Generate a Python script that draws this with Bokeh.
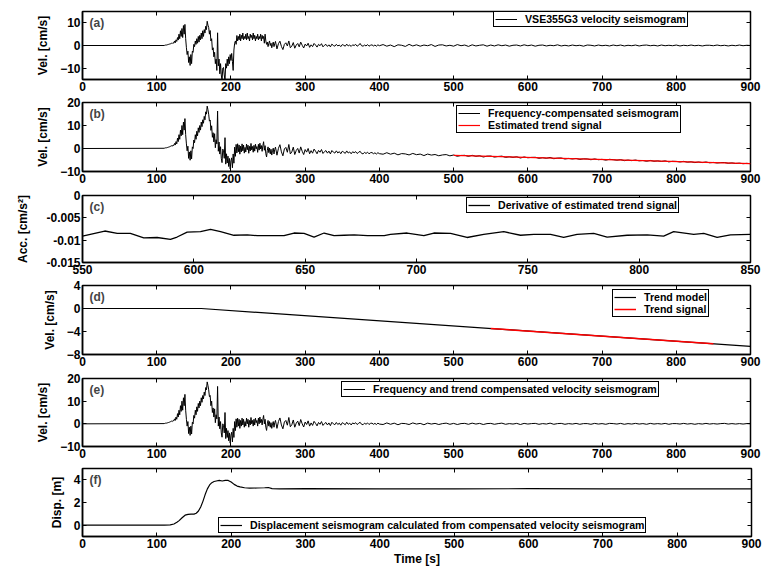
import numpy as np
from bokeh.plotting import figure
from bokeh.models import (Range1d, LinearAxis, FixedTicker, Legend, LegendItem,
                          Label, CustomJSTickFormatter)
from bokeh.layouts import column
from bokeh.embed import file_html
from bokeh.resources import INLINE

FONT = "Liberation Sans"

# ---------------- data ----------------
# (a) raw velocity seismogram [cm/s]; 1 s samples from 110 s
a_strong = [0, 0.1, 0.2, 0.2, 0.3, 0.4, 0.5, 0.6, 0.7, 0.8,
            1.0, 0.9, 1.3, 1.0, 2.0, 1.2, 2.5, 1.8, 3.5, 2.4,
            5.0, 3.0, 6.5, 4.0, 7.5, 3.5, 8.8, 5.0, 9.3, 3.0,
            -1.0, -4.0, -2.5, -7.5, -5.0, -8.8, -4.0, -8.0, -2.5, -3.0,
            0.5, -0.5, 2.0, 0.5, 3.0, 1.0, 4.0, 1.5, 4.5, 2.5,
            5.5, 3.0, 6.5, 4.0, 7.0, 5.5, 8.5, 7.0, 10.7, 9.0,
            8.0, 5.0, 6.6, 2.0, 3.0, -2.0, -1.0, -5.0, -3.0, -8.0,
            -6.0, -11.0, 5.6, -9.0, -6.0, -12.5, -8.0, -13.0, -15.5, -10.0,
            -9.7, -13.0, -15.5, -8.0, -10.0, -6.0, -9.0, -5.0, -8.0, -4.0,
            -6.6, -3.5, -7.0, -11.0, -2.0, 1.0, 2.0, 0.5, 4.4, 2.0,
            4.0, 2.5, 5.0, 2.0, 4.5, 3.0, 5.5, 2.5, 4.0, 3.0,
            5.0, 2.5, 5.5, 3.0, 4.0, 2.0, 5.0, 3.5, 4.5, 2.5,
            5.5, 3.0, 4.5, 2.0, 4.0, 3.0, 5.0, 2.5, 4.0, 3.0,
            5.0, 2.0, 4.5, 3.0, 4.0, 1.0, 5.0, 2.0, 0.5, 1.5,
            -0.5, 1.0, 2.0, 0.0, 1.0, -1.0, 0.5, 1.5, -0.5, 0.8,
            1.8]
# 2 s samples from 262 s
a_tail1 = [-1.5, 0.8, 1.9, -0.4, -1.8, 0.5, 1.2, -0.2, 2.0, -1.0,
           -0.3, 1.3, -1.2, 0.2, 0.9, -0.6, 1.5, 0.1, -1.1, 0.6,
           -0.2, 1.0, -0.8, 0.3, -0.5, 0.9, 0.2, -0.7, 0.5, -0.1,
           0.8, -0.6, 0.1, 0.5, -0.4, 0.3, -0.6, 0.6, 0.0, -0.3,
           0.5, -0.2, 0.2, -0.5, 0.4, 0.1, -0.3, 0.6, -0.2, 0.2,
           -0.4, 0.3, 0.0, 0.5, -0.3, 0.1, 0.9, -0.1, -0.3, 0.2,
           -0.2, 0.4, -0.3, 0.1, 0.3, -0.2, 0.2, -0.3, 0.3, -0.1]
# 5 s samples from 405 s
a_tail2 = [0.4, -0.3, 0.2, -0.5, 0.3, 0.1, -0.4, 0.5, -0.2, 0.3,
           -0.3, 0.2, -0.1, 0.4, -0.4, 0.2, 0.3, -0.2, 0.1, -0.3,
           0.4, -0.1, 0.2, -0.4, 0.3, -0.2, 0.1, 0.3, -0.3, 0.2,
           -0.2, 0.3, -0.1, 0.2, -0.3, 0.1, 0.2, -0.2, 0.3, -0.1,
           0.2, -0.3, 0.1, 0.2, -0.2, 0.1, -0.1, 0.3, -0.2, 0.1,
           -0.2, 0.2, -0.1, 0.1, -0.3, 0.2, 0.1, -0.2, 0.2, -0.1,
           0.1, -0.2, 0.2, -0.1, 0.2, -0.2, 0.1, -0.1, 0.2, -0.2,
           0.1, 0.2, -0.1, 0.1, -0.2, 0.2, -0.1, 0.1, -0.1, 0.2,
           -0.2, 0.1, -0.1, 0.2, -0.1, 0.1, -0.2, 0.1, 0.1, -0.1,
           0.2, -0.1, 0.1, -0.2, 0.1, -0.1, 0.2, -0.1, 0.1, 0.0]

# (e) frequency- and trend-compensated velocity [cm/s]; 1 s samples from 110 s
e_strong = [0.1, 0.2, 0.3, 0.3, 0.4, 0.5, 0.6, 0.7, 0.9, 1.0,
            1.2, 1.0, 1.5, 1.3, 2.2, 1.5, 3.0, 2.0, 4.5, 3.0,
            6.0, 4.0, 8.0, 5.5, 10.0, 6.0, 11.5, 8.0, 13.0, 6.0,
            2.0, -1.0, 1.0, -4.3, -1.5, -5.1, -1.0, -4.5, 0.7, 0.0,
            3.7, 2.5, 6.0, 4.0, 7.5, 5.5, 9.0, 7.0, 10.0, 8.0,
            11.5, 9.5, 12.5, 11.0, 14.0, 12.5, 16.0, 15.0, 18.5, 17.0,
            15.0, 12.0, 12.5, 8.0, 10.0, 5.0, 7.0, 3.0, 6.6, 0.5,
            4.0, 2.2, 16.5, -1.0, 3.0, -2.2, 1.0, -4.0, -5.9, 0.0,
            -0.7, -4.0, 5.0, -6.5, -2.0, -6.0, -3.0, -7.5, -4.0, -8.5,
            -5.0, -3.7, -8.0, -2.0, -6.0, 1.0, -3.0, 2.2, -1.5, 2.5,
            -1.0, 2.0, -2.0, 1.5, -1.0, 2.5, -0.5, 2.0, -1.5, 1.0,
            -1.0, 2.5, 0.0, 2.0, -1.5, 1.5, -0.5, 2.8, 0.0, 1.5,
            -1.0, 2.0, -0.5, 2.5, 0.5, 1.5, -1.0, 2.5, 0.0, 3.0,
            0.5, 2.0, -0.5, 2.0, 3.7, 0.0, 2.0, -1.5, -2.9, 0.0,
            1.5, -1.0, 1.0, -1.5, 0.5, -2.0, 0.0, 1.0, -1.5, 0.5,
            1.5]
e_tail1 = [-2.0, 1.0, 2.6, -0.5, -2.2, 0.8, 1.5, -0.6, 2.8, -1.3,
           -0.4, 1.7, -1.5, 0.3, 1.2, -0.8, 1.9, 0.0, -1.4, 0.8,
           -0.3, 1.3, -1.0, 0.4, -0.7, 1.1, 0.2, -0.9, 0.6, -0.2,
           1.0, -0.7, 0.1, 0.6, -0.5, 0.4, -0.8, 0.7, 0.0, -0.4,
           0.6, -0.3, 0.3, -0.6, 0.5, 0.1, -0.4, 0.7, -0.2, 0.3,
           -0.5, 0.4, 0.0, 0.5, -0.3, 0.2, 0.7, -0.2, -0.4, 0.3,
           -0.2, 0.4, -0.3, 0.2, 0.3, -0.2, 0.2, -0.3, 0.3, -0.1]
e_tail2 = [-0.3, 0.4, -0.2, 0.3, -0.4, 0.2, 0.1, -0.3, 0.4, -0.1,
           0.2, -0.4, 0.3, -0.1, 0.2, -0.3, 0.1, 0.3, -0.2, 0.2,
           -0.3, 0.1, 0.2, -0.2, 0.3, -0.1, 0.2, -0.3, 0.1, 0.2,
           -0.2, 0.1, 0.3, -0.2, 0.1, -0.1, 0.2, -0.3, 0.2, -0.1,
           0.1, 0.2, -0.2, 0.1, -0.1, 0.3, -0.2, 0.1, 0.2, -0.2,
           0.1, -0.1, 0.2, -0.2, 0.1, 0.1, -0.2, 0.2, -0.1, 0.1,
           -0.2, 0.2, 0.1, -0.1, 0.2, -0.2, 0.1, -0.1, 0.2, -0.1,
           0.1, -0.2, 0.2, -0.1, 0.1, -0.1, 0.2, -0.2, 0.1, 0.1,
           -0.1, 0.2, -0.1, 0.1, -0.2, 0.1, -0.1, 0.2, -0.1, 0.1,
           -0.1, 0.1, 0.2, -0.1, 0.1, -0.1, 0.1, -0.1, 0.1, 0.0]

# (c) derivative of estimated trend signal [cm/s^2]
c_t = [550, 560, 565.6, 571.5, 577.5, 583.5, 589.5, 592.5, 597, 603, 607.5, 612,
       618, 624, 628.5, 634.5, 640.5, 645, 649.5, 654, 658.5, 663, 667.6, 672,
       678, 685.5, 688.3, 695.8, 703.3, 707.8, 715.3, 722.7, 730.2, 739.2,
       746.7, 752.7, 760.2, 766.1, 772.1, 779.6, 785.6, 794.6, 803.6, 811,
       815.5, 824.5, 829, 835, 841, 850]
c_v = [-0.0091, -0.00795, -0.0085, -0.0085, -0.0095, -0.0094, -0.0098, -0.0093,
       -0.0082, -0.0081, -0.0076, -0.0081, -0.0089, -0.0088, -0.0090, -0.0090,
       -0.0090, -0.0084, -0.0085, -0.0093, -0.0084, -0.0090, -0.0089, -0.0088,
       -0.0090, -0.0090, -0.0087, -0.0084, -0.0090, -0.0084, -0.0085, -0.0094,
       -0.0087, -0.0081, -0.0089, -0.0087, -0.0087, -0.0094, -0.0087, -0.0085,
       -0.0093, -0.0089, -0.0088, -0.0091, -0.0081, -0.0087, -0.0085, -0.0094,
       -0.0088, -0.0087]

# (d) trend model and trend signal [cm/s]
trend_t = [0, 160, 900]
trend_v = [0.0, 0.0, -6.6]
sig_t = [550, 850]
sig_v = [-3.48, -6.15]
# estimated trend shown in (b)
est_t = [500, 900]
est_v = [-3.0, -6.6]

# (f) displacement [m]
f_t = [0, 110, 118, 123, 127, 130, 134, 138, 142, 146, 150, 153, 156, 159, 162,
       165, 168, 171, 174, 177, 180, 184, 188, 192, 196, 200, 204, 208, 212, 218,
       225, 235, 245, 250, 255, 265, 300, 400, 500, 600, 700, 800, 900]
f_v = [0, 0, 0.03, 0.1, 0.25, 0.4, 0.65, 0.88, 0.95, 0.97, 0.98, 1.05, 1.25, 1.6,
       2.1, 2.7, 3.2, 3.55, 3.75, 3.85, 3.9, 3.95, 3.9, 3.95, 3.95, 3.8, 3.6, 3.45,
       3.38, 3.3, 3.27, 3.28, 3.3, 3.32, 3.22, 3.2, 3.22, 3.2, 3.2, 3.22, 3.2, 3.2, 3.2]


def series(strong, tail1, tail2):
    t = np.concatenate([[0.0], 110 + np.arange(len(strong)),
                        262 + 2 * np.arange(len(tail1)),
                        405 + 5 * np.arange(len(tail2))])
    v = np.concatenate([[0.0], strong, tail1, tail2])
    return t, v


ta, va = series(a_strong, a_tail1, a_tail2)
te, ve = series(e_strong, e_tail1, e_tail2)
tb = te
vb = ve + np.interp(te, trend_t, trend_v)


# ---------------- styling helpers ----------------
def style_axis(ax, ticks):
    ax.ticker = FixedTicker(ticks=ticks)
    ax.major_tick_in = 4
    ax.major_tick_out = 0
    ax.minor_tick_line_color = None
    ax.major_tick_line_color = "black"
    ax.major_tick_line_width = 1
    ax.axis_line_color = "black"
    ax.axis_line_width = 1.5
    ax.major_label_text_font = FONT
    ax.major_label_text_font_size = "12px"
    ax.major_label_text_font_style = "bold"
    ax.major_label_text_color = "black"
    ax.major_label_standoff = 2
    ax.axis_label_text_font = FONT
    ax.axis_label_text_font_size = "12px"
    ax.axis_label_text_font_style = "bold"
    ax.axis_label_text_color = "black"


def panel(h, mbt, mbb, xr, yr, xticks, yticks, ylabel, tag, width=764, mbr=14,
          xlabel=None, yfmt=None, ylab_standoff=7):
    p = figure(width=width, height=h, x_range=Range1d(*xr), y_range=Range1d(*yr),
               output_backend="svg", toolbar_location=None,
               min_border_left=82, min_border_right=mbr,
               min_border_top=mbt, min_border_bottom=mbb)
    p.grid.visible = False
    p.outline_line_color = "black"
    p.outline_line_width = 1.5
    p.outline_line_alpha = 1
    p.background_fill_color = "white"
    p.border_fill_color = "white"
    style_axis(p.xaxis[0], xticks)
    style_axis(p.yaxis[0], yticks)
    p.yaxis[0].axis_label = ylabel
    p.yaxis[0].axis_label_standoff = ylab_standoff
    if xlabel:
        p.xaxis[0].axis_label = xlabel
        p.xaxis[0].axis_label_standoff = 1
    if yfmt is not None:
        p.yaxis[0].formatter = yfmt
    for loc, ticks in (("above", xticks), ("right", yticks)):
        ax = LinearAxis()
        style_axis(ax, ticks)
        ax.formatter = CustomJSTickFormatter(code="return ''")
        ax.major_label_text_font_size = "0px"
        ax.major_label_standoff = 0
        ax.axis_line_color = None
        p.add_layout(ax, loc)
    p.add_layout(Label(x=xr[0], y=yr[1], x_offset=7, y_offset=-4, text=tag,
                       text_baseline="top", text_font=FONT,
                       text_font_size="12px", text_font_style="bold"))
    return p


def legend(p, items, loc):
    leg = Legend(items=[LegendItem(label=l, renderers=[r]) for l, r in items],
                 location=loc, orientation="vertical",
                 label_text_font=FONT, label_text_font_size="10.6px",
                 label_text_font_style="bold", label_text_color="black",
                 border_line_color="black", border_line_width=1.5,
                 border_line_alpha=1, background_fill_color="white",
                 background_fill_alpha=1, padding=1, margin=0, spacing=0,
                 glyph_width=22, glyph_height=12, label_height=12,
                 label_standoff=8)
    p.add_layout(leg)


X100 = [0, 100, 200, 300, 400, 500, 600, 700, 800, 900]

# (a)
pa = panel(95, 11, 16, (0, 900), (-15, 15), X100, [-10, 0, 10], "Vel. [cm/s]", "(a)")
ra = pa.line(ta, va, line_color="black", line_width=1)
legend(pa, [("VSE355G3 velocity seismogram", ra)], (411, 52))

# (b)
pb = panel(92, 7, 16, (0, 900), (-10, 20), X100, [-10, 0, 10, 20], "Vel. [cm/s]", "(b)")
rb = pb.line(tb, vb, line_color="black", line_width=1)
rb2 = pb.line(est_t, est_v, line_color="red", line_width=1.2)
legend(pb, [("Frequency-compensated seismogram", rb),
            ("Estimated trend signal", rb2)], (374, 38))

# (c)
cfmt = CustomJSTickFormatter(code="return tick.toString()")
pc = panel(91, 8, 16, (550, 850), (-0.015, 0), [550, 600, 650, 700, 750, 800, 850],
           [-0.015, -0.01, -0.005, 0], "Acc. [cm/s\u00b2]", "(c)", yfmt=cfmt,
           ylab_standoff=13)
rc = pc.line(c_t, c_v, line_color="black", line_width=1.3)
legend(pc, [("Derivative of estimated trend signal", rc)], (384, 49))

# (d)
pd_ = panel(92, 7, 16, (0, 900), (-8, 4), X100, [-8, -4, 0, 4], "Vel. [cm/s]", "(d)")
rd = pd_.line(trend_t, trend_v, line_color="black", line_width=1.2)
rd2 = pd_.line(sig_t, sig_v, line_color="red", line_width=1.5)
legend(pd_, [("Trend model", rd), ("Trend signal", rd2)], (530, 37))

# (e)
pe = panel(92, 8, 16, (0, 900), (-10, 20), X100, [-10, 0, 10, 20], "Vel. [cm/s]", "(e)")
re_ = pe.line(te, ve, line_color="black", line_width=1)
legend(pe, [("Frequency and trend compensated velocity seismogram", re_)], (259, 49))

# (f)
pf = panel(106, 6, 30, (0, 900), (-1, 5), X100, [0, 2, 4], "Disp. [m]", "(f)",
           width=765, mbr=10, xlabel="Time [s]")
rf = pf.line(f_t, f_v, line_color="black", line_width=1.2)
legend(pf, [("Displacement seismogram calculated from compensated velocity seismogram", rf)],
       (136, 3))

layout = column(pa, pb, pc, pd_, pe, pf, spacing=0)
open("out.html", "w").write(file_html(layout, INLINE))
